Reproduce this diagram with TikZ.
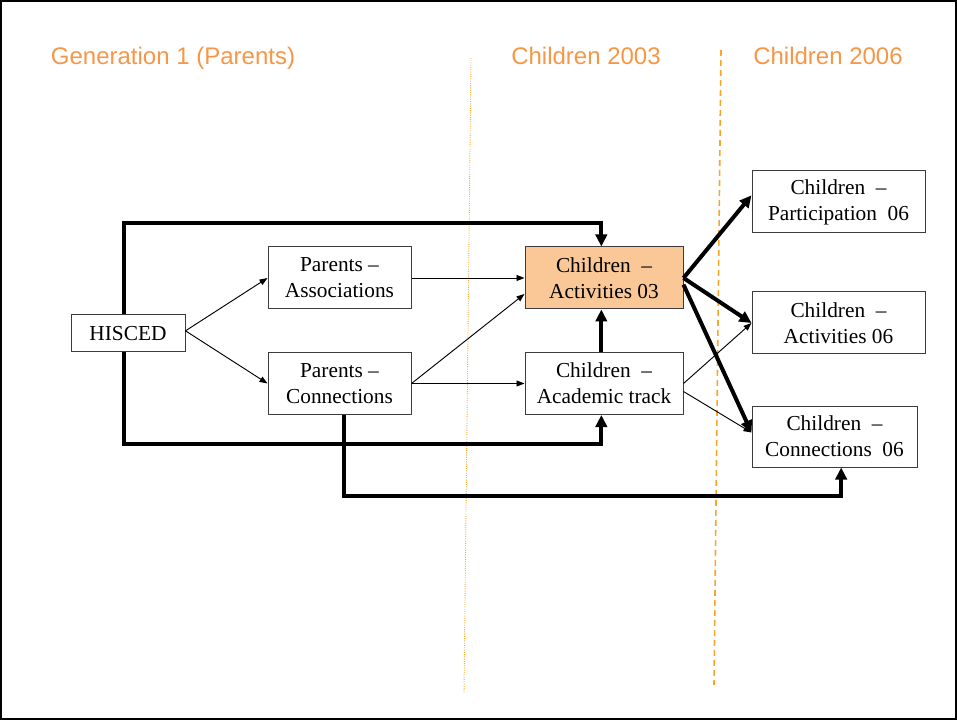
\documentclass[tikz,border=0pt]{standalone}
\usepackage{fontspec}
\setmainfont{Liberation Serif}
\newfontfamily\titlefont{Liberation Sans}
\usetikzlibrary{arrows.meta, positioning, calc}
\definecolor{titleorange}{RGB}{247,150,70}
\definecolor{lineorange}{RGB}{250,165,40}
\definecolor{boxfill}{RGB}{250,200,150}
\definecolor{boxline}{RGB}{60,60,60}

\begin{document}
\begin{tikzpicture}[x=0.75pt, y=-0.75pt,
    box/.style={draw=boxline, line width=0.75pt, align=center, inner sep=0pt,
        minimum height=46.5pt, font=\fontsize{16}{19.5}\selectfont},
    title/.style={text=titleorange, inner sep=0pt, anchor=base, font=\titlefont\fontsize{18}{20}\selectfont},
    thinarrow/.style={line width=0.7pt, -{Triangle[length=6pt, width=4.5pt]}},
    bigarrow/.style={line width=3pt, -{Triangle[length=9pt, width=8.5pt]}}]
    \useasboundingbox (0,0) rectangle (957,720);
    \draw[line width=2pt] (1,1) rectangle (956,719);

    % column titles and separators
    \node[title] (gen1) at (173,65) {Generation 1 (Parents)};
    \node[title] (ch03) at (586,65) {Children 2003};
    \node[title] (ch06) at (828,65) {Children 2006};
    \coordinate (sepatop) at (471,58);
    \coordinate (sepabot) at (464,693);
    \coordinate (sepbtop) at (721,50);
    \coordinate (sepbbot) at (714,685);
    \draw[lineorange, line width=0.7pt, densely dotted] (sepatop) -- (sepabot);
    \draw[lineorange, line width=1.2pt, dash pattern=on 4.5pt off 3pt] (sepbtop) -- (sepbbot);

    % boxes
    \node[box, minimum width=85.5pt, minimum height=27.75pt] (hisced) at (128,333.5) {HISCED};
    \node[box, minimum width=107.25pt] (passoc) at (339.5,278) {Parents --\\Associations};
    \node[box, minimum width=107.25pt] (pconn) at (339.5,383.5) {Parents --\\Connections};
    \node[box, minimum width=118.5pt, fill=boxfill] (act03) at (604,278) {Children\enspace--\\Activities 03};
    \node[box, minimum width=118.5pt] (acad) at (604,383.5) {Children\enspace--\\Academic track};
    \node[box, minimum width=129.75pt] (part06) at (838.5,202) {Children\enspace--\\Participation\enspace 06};
    \node[box, minimum width=129.75pt] (act06) at (838.5,323) {Children\enspace--\\Activities 06};
    \node[box, minimum width=123.75pt, minimum height=45.75pt] (conn06) at (834.5,436.5) {Children\enspace--\\Connections\enspace 06};

    % thin paths
    \draw[thinarrow] ([yshift=2pt]hisced.east) -- (passoc.west);
    \draw[thinarrow] ([yshift=2pt]hisced.east) -- (pconn.west);
    \draw[thinarrow] (passoc.east) -- (act03.west);
    \draw[thinarrow] (pconn.east) -- ([yshift=-12pt]act03.west);
    \draw[thinarrow] (pconn.east) -- (acad.west);
    \draw[thinarrow] (acad.east) -- (act06.west);
    \draw[thinarrow] ([yshift=-6pt]acad.east) -- ([yshift=3pt]conn06.west);

    % thick paths
    \draw[bigarrow] ([xshift=-3pt]hisced.north) |- ([xshift=-2pt, yshift=17.25pt]act03.north) -- ([xshift=-2pt]act03.north);
    \draw[bigarrow] ([xshift=-3pt]hisced.south) |- ([xshift=-2pt, yshift=-21.75pt]acad.south) -- ([xshift=-2pt]acad.south);
    \draw[bigarrow] ([xshift=3pt]pconn.south) |- ([xshift=5pt, yshift=-21pt]conn06.south) -- ([xshift=5pt]conn06.south);
    \draw[bigarrow] ([xshift=-2pt]acad.north) -- ([xshift=-2pt]act03.south);
    \draw[bigarrow] (act03.east) -- ([yshift=5pt]part06.west);
    \draw[bigarrow] (act03.east) -- (act06.west);
    \draw[bigarrow] ([yshift=-5pt]act03.east) -- ([yshift=3pt]conn06.west);
\end{tikzpicture}
\end{document}
